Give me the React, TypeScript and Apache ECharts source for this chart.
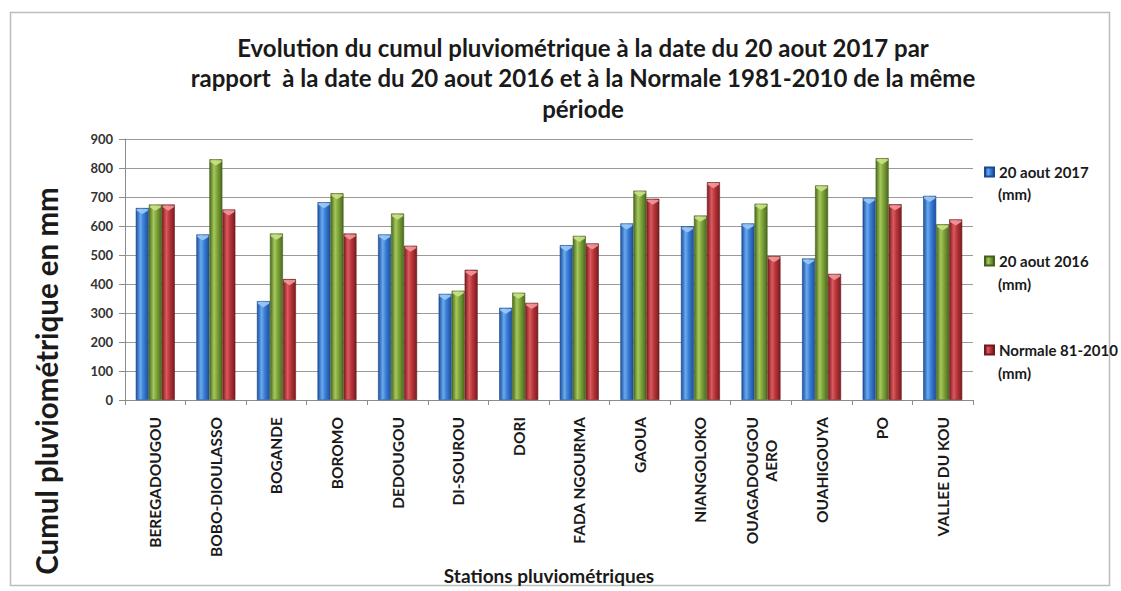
import React, { useEffect, useRef } from "react";
import * as echarts from "echarts";

const stations = [
  "BEREGADOUGOU",
  "BOBO-DIOULASSO",
  "BOGANDE",
  "BOROMO",
  "DEDOUGOU",
  "DI-SOUROU",
  "DORI",
  "FADA NGOURMA",
  "GAOUA",
  "NIANGOLOKO",
  "OUAGADOUGOU\nAERO      ",
  "OUAHIGOUYA",
  "PO",
  "VALLEE DU KOU",
];
const aout2017 = [662, 571, 341, 682, 571, 366, 318, 534, 609, 599, 609, 488, 697, 704];
const aout2016 = [674, 830, 574, 713, 643, 377, 370, 566, 722, 636, 677, 740, 834, 606];
const normale = [674, 657, 417, 574, 532, 449, 335, 540, 694, 751, 496, 435, 675, 623];
const seriesNames = ["20 aout 2017 (mm)", "20 aout 2016 (mm)", "Normale 81-2010 (mm)"];
const yTicks = [0, 100, 200, 300, 400, 500, 600, 700, 800, 900];

const FONT = "Lato, 'Open Sans', sans-serif";

function grad(dark: string, mid: string, light: string) {
  return new echarts.graphic.LinearGradient(0, 0, 1, 0, [
    { offset: 0, color: dark },
    { offset: 0.35, color: light },
    { offset: 0.6, color: mid },
    { offset: 1, color: dark },
  ]);
}

export default function App() {
  const ref = useRef<HTMLDivElement>(null);
  useEffect(() => {
    if (!ref.current) return;
    const chart = echarts.init(ref.current, undefined, { renderer: "svg" });
    const colors = [
      { dark: "#1d4f9c", mid: "#3a7ed6", light: "#6aaaf0", border: "#1a4a90", cap: "#9ccaf6" },
      { dark: "#4a6a1e", mid: "#7ea43a", light: "#a6c85c", border: "#44601a", cap: "#cce28a" },
      { dark: "#7a1c20", mid: "#b8353a", light: "#dc5a5e", border: "#6e1a1d", cap: "#f09a9c" },
    ];
    const datas = [aout2017, aout2016, normale];
    const legendY = [172, 262, 351];
    const barSeries = datas.map((d, i) => ({
      name: seriesNames[i],
      type: "bar",
      data: d,
      barWidth: 13,
      barGap: "0%",
      z: 2,
      itemStyle: {
        color: grad(colors[i].dark, colors[i].mid, colors[i].light),
        borderColor: colors[i].border,
        borderWidth: 0.6,
      },
    }));
    const capSeries = datas.map((d, i) => ({
      name: seriesNames[i] + " cap",
      type: "pictorialBar",
      data: d,
      barWidth: 13,
      barGap: "0%",
      symbol: "path://M0,0 L12,0 L12,2 L6,6 L0,2 Z",
      symbolSize: [11, 5],
      symbolPosition: "end",
      symbolOffset: [0, 1],
      z: 3,
      silent: true,
      itemStyle: { color: colors[i].cap, opacity: 0.9 },
    }));
    chart.setOption({
      animation: false,
      backgroundColor: "#ffffff",
      title: {
        text:
          "Evolution du cumul pluviométrique à la date du 20 aout 2017 par\nrapport  à la date du 20 aout 2016 et à la Normale 1981-2010 de la même\npériode",
        left: 578,
        textAlign: "center",
        top: 27,
        textStyle: {
          fontFamily: FONT,
          fontWeight: "bold",
          fontSize: 24,
          lineHeight: 30.5,
          color: "#1a1a1a",
        },
      },
      legend: {
        orient: "vertical",
        left: 979,
        top: 157,
        itemGap: 69,
        itemWidth: 9,
        itemHeight: 9,
        icon: "rect",
        formatter: (name: string) => name.replace(" (mm)", ""),
        textStyle: {
          fontFamily: FONT,
          fontWeight: "bold",
          fontSize: 15,
          lineHeight: 20,
          color: "#1a1a1a",
        },
        data: seriesNames,
      },
      grid: { left: 125, right: 148, top: 139, bottom: 191, containLabel: false },
      xAxis: {
        type: "category",
        data: stations,
        name: "Stations pluviométriques",
        nameLocation: "middle",
        nameGap: 166,
        nameTextStyle: {
          fontFamily: FONT,
          fontWeight: "bold",
          fontSize: 19,
          color: "#1a1a1a",
        },
        axisLine: { lineStyle: { color: "#8c8c8c", width: 1 } },
        axisTick: { show: true, alignWithLabel: false, length: 5, lineStyle: { color: "#8c8c8c" } },
        axisLabel: {
          rotate: 90,
          interval: 0,
          margin: 17,
          fontFamily: FONT,
          fontWeight: "bold",
          fontSize: 15.5,
          lineHeight: 19,
          color: "#1a1a1a",
        },
      },
      yAxis: {
        type: "value",
        min: 0,
        max: yTicks[yTicks.length - 1],
        interval: 100,
        axisLine: { show: true, lineStyle: { color: "#8c8c8c", width: 1 } },
        axisTick: { show: true, length: 6, lineStyle: { color: "#8c8c8c" } },
        axisLabel: {
          margin: 12,
          fontFamily: FONT,
          fontWeight: "bold",
          fontSize: 13,
          color: "#333333",
        },
        splitLine: { lineStyle: { color: "#9a9a9a", width: 1 } },
      },
      graphic: [
        {
          type: "rect",
          shape: { x: 10.5, y: 12.5, width: 1099, height: 573 },
          style: { fill: "none", stroke: "#bdbdbd", lineWidth: 1.5 },
          silent: true,
          z: -1,
        },
        {
          type: "text",
          x: 46,
          y: 381,
          rotation: Math.PI / 2,
          style: {
            text: "Cumul pluviométrique en mm",
            fontFamily: FONT,
            fontWeight: "bold",
            fontSize: 29.5,
            fill: "#1a1a1a",
            align: "center",
            verticalAlign: "middle",
          },
        },
        ...legendY.map((y) => ({
          type: "text",
          x: 998,
          y: y + 22,
          style: {
            text: "(mm)",
            fontFamily: FONT,
            fontWeight: "bold",
            fontSize: 15,
            fill: "#1a1a1a",
            align: "left",
            verticalAlign: "middle",
          },
        })),
      ],
      series: [...barSeries, ...capSeries],
    });
    return () => chart.dispose();
  }, []);
  return (
    <div
      ref={ref}
      style={{ position: "fixed", left: 0, top: 0, width: 1121, height: 591 }}
    />
  );
}
